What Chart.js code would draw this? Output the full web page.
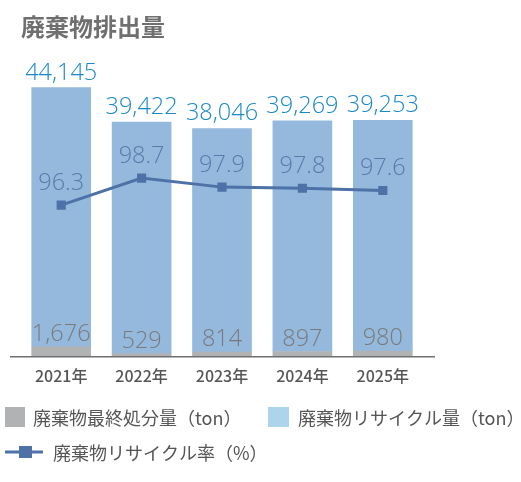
<!DOCTYPE html>
<html>
<head>
<meta charset="utf-8">
<script src="https://cdn.jsdelivr.net/npm/chart.js@4"></script>
<style>
  body { margin: 0; background: #fff; }
  #wrap { width: 521px; height: 482px; }
</style>
</head>
<body>
<div id="wrap"><canvas id="chart"></canvas></div>
<script>
// Data
const years = ['2021年', '2022年', '2023年', '2024年', '2025年'];
const landfill = [1676, 529, 814, 897, 980];          // 廃棄物最終処分量 (ton)
const recycled = [44145, 39422, 38046, 39269, 39253]; // 廃棄物リサイクル量 (ton)
const recycleRate = [96.3, 98.7, 97.9, 97.8, 97.6];   // 廃棄物リサイクル率 (%)

const FONT = '"Noto Sans CJK JP", "Noto Sans", sans-serif';
const NUM_FONT = '300 23.5px "Open Sans", "Noto Sans", sans-serif';
const GRAY = '#b0b2b4';
const BLUE = '#94b9dd';
const LINE = '#4e72a7';

// Value labels drawn on top of bars and points
const valueLabels = {
    id: 'valueLabels',
    afterDatasetsDraw(chart) {
        const ctx = chart.ctx;
        ctx.save();
        ctx.textAlign = 'center';
        ctx.textBaseline = 'alphabetic';
        ctx.font = NUM_FONT;

        const grayBars = chart.getDatasetMeta(0).data;
        const blueBars = chart.getDatasetMeta(1).data;
        const points = chart.getDatasetMeta(2).data;

        // baseline axis line
        ctx.strokeStyle = '#707070';
        ctx.lineWidth = 1.5;
        ctx.beginPath();
        ctx.moveTo(10, chart.chartArea.bottom);
        ctx.lineTo(435, chart.chartArea.bottom);
        ctx.stroke();

        years.forEach((y, i) => {
            ctx.fillStyle = '#7a7a7a';
            ctx.fillText(landfill[i].toLocaleString('en-US'), grayBars[i].x, grayBars[i].y - 6);
            ctx.fillStyle = '#1a88c9';
            ctx.fillText(recycled[i].toLocaleString('en-US'), blueBars[i].x, blueBars[i].y - 8);
            ctx.fillStyle = '#5a7aab';
            ctx.fillText(recycleRate[i].toFixed(1), points[i].x, points[i].y - 15);
        });
        ctx.restore();
    },
    afterDraw(chart) {
        // legend at the bottom
        const ctx = chart.ctx;
        ctx.save();
        ctx.font = '18px ' + FONT;
        ctx.textBaseline = 'middle';

        ctx.fillStyle = GRAY;
        ctx.fillRect(5, 407, 20, 20);
        ctx.fillStyle = '#555';
        ctx.fillText('廃棄物最終処分量（ton）', 33, 418);

        ctx.fillStyle = '#aed4ec';
        ctx.fillRect(268, 407, 21, 20);
        ctx.fillStyle = '#555';
        ctx.fillText('廃棄物リサイクル量（ton）', 298, 418);

        ctx.strokeStyle = LINE;
        ctx.lineWidth = 3;
        ctx.beginPath();
        ctx.moveTo(5, 452);
        ctx.lineTo(43, 452);
        ctx.stroke();
        ctx.fillStyle = LINE;
        ctx.fillRect(19, 446, 13, 12);
        ctx.fillStyle = '#555';
        ctx.fillText('廃棄物リサイクル率（%）', 53, 453);
        ctx.restore();
    }
};

new Chart(document.getElementById('chart'), {
    data: {
        labels: years,
        datasets: [
            {
                type: 'bar',
                label: '廃棄物最終処分量（ton）',
                data: landfill,
                backgroundColor: GRAY,
                barThickness: 59,
                yAxisID: 'y',
                order: 1
            },
            {
                type: 'bar',
                label: '廃棄物リサイクル量（ton）',
                data: recycled,
                backgroundColor: BLUE,
                barThickness: 59,
                yAxisID: 'y',
                order: 1
            },
            {
                type: 'line',
                label: '廃棄物リサイクル率（%）',
                data: recycleRate,
                borderColor: LINE,
                backgroundColor: LINE,
                borderWidth: 3,
                pointStyle: 'rect',
                pointRadius: 6.5,
                pointBorderWidth: 0,
                yAxisID: 'y1',
                order: 0
            }
        ]
    },
    options: {
        responsive: true,
        maintainAspectRatio: false,
        animation: false,
        layout: {
            padding: { left: 21, right: 98, top: 0, bottom: 86 }
        },
        scales: {
            x: {
                stacked: true,
                grid: { display: false, drawTicks: false },
                border: { display: false },
                ticks: {
                    padding: 10,
                    color: '#555',
                    font: { size: 16, weight: '500', family: FONT }
                }
            },
            y: {
                stacked: true,
                display: false,
                min: 0,
                max: 50510
            },
            y1: {
                display: false,
                position: 'right',
                min: 82.83,
                max: 109.19
            }
        },
        plugins: {
            legend: { display: false },
            tooltip: { enabled: false },
            title: {
                display: true,
                text: '廃棄物排出量',
                align: 'start',
                color: '#6f6f6f',
                font: { size: 24, weight: 'bold', family: FONT },
                padding: { top: 12, bottom: 19.2 }
            }
        }
    },
    plugins: [valueLabels]
});
</script>
</body>
</html>
